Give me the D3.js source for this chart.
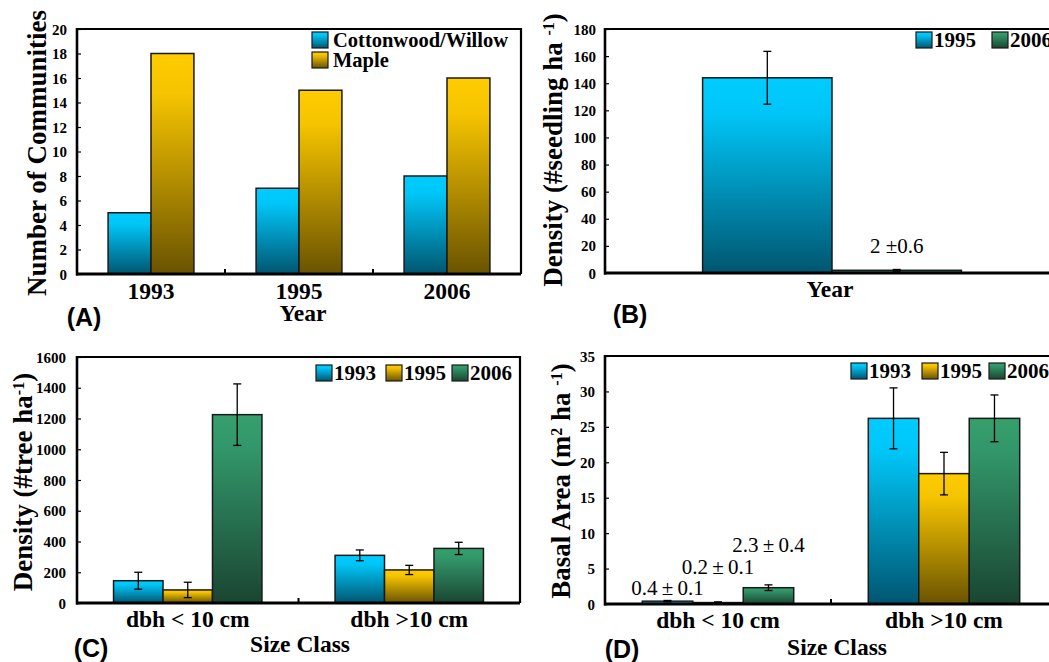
<!DOCTYPE html>
<html><head><meta charset="utf-8">
<script src="https://cdn.jsdelivr.net/npm/d3@7"></script>
<style>body{margin:0;background:#fff}svg{display:block}</style>
</head><body><svg id="c" width="1049" height="662"></svg>
<script>
// ---------- DATA ----------
// (A) number of communities
const yearsA = ["1993", "1995", "2006"];
const cottonwoodWillow = [5, 7, 8];
const maple = [18, 15, 16];
const ticksA = [0, 2, 4, 6, 8, 10, 12, 14, 16, 18, 20];

// (B) seedling density
const seedlingCategories = [""];
const seedling1995 = [144];
const seedling1995SE = [19.5];
const seedling2006 = [2];
const seedling2006SE = [0.6];
const ticksB = [0, 20, 40, 60, 80, 100, 120, 140, 160, 180];

// (C) tree density by size class
const sizeClasses = ["dbh < 10 cm", "dbh >10 cm"];
const density1993 = [145, 310];
const density1993SE = [55, 35];
const density1995 = [85, 215];
const density1995SE = [50, 30];
const density2006 = [1225, 355];
const density2006SE = [200, 40];
const ticksC = [0, 200, 400, 600, 800, 1000, 1200, 1400, 1600];

// (D) basal area by size class
const basal1993 = [0.4, 26.2];
const basal1993SE = [0.1, 4.3];
const basal1995 = [0.2, 18.4];
const basal1995SE = [0.1, 3.0];
const basal2006 = [2.3, 26.2];
const basal2006SE = [0.4, 3.3];
const ticksD = [0, 5, 10, 15, 20, 25, 30, 35];
const basalLabels = ["0.4\u2009\u00B1\u20090.1", "0.2\u2009\u00B1\u20090.1", "2.3\u2009\u00B1\u20090.4"];

// ---------- STYLE ----------
const SERIF = "'Liberation Serif','Times New Roman',serif";
const SANS = "'Liberation Sans',Arial,sans-serif";
const svg = d3.select("#c");
const defs = svg.append("defs");
const grads = {
  cyan: ["#00CCFF", "#00C6F8", "#005670"],
  gold: ["#FFCC00", "#F6C400", "#6A5300"],
  green: ["#36A06C", "#32966A", "#1A4531"]
};
Object.entries(grads).forEach(([k, c]) => {
  const g = defs.append("linearGradient").attr("id", "g-" + k)
    .attr("x1", 0).attr("y1", 0).attr("x2", 0).attr("y2", 1);
  g.append("stop").attr("offset", 0).attr("stop-color", c[0]);
  g.append("stop").attr("offset", 0.18).attr("stop-color", c[1]);
  g.append("stop").attr("offset", 1).attr("stop-color", c[2]);
});

function panel(cfg) {
  const g = svg.append("g");
  const x = d3.scaleBand().domain(cfg.categories).range([cfg.left, cfg.right]);
  const y = d3.scaleLinear().domain([0, cfg.ymax]).range([cfg.bottom, cfg.top]);
  const bw = x.bandwidth();
  const inner = d3.scaleBand().domain(cfg.series.map(s => s.name))
    .range([bw * (1 - cfg.groupFrac) / 2, bw * (1 + cfg.groupFrac) / 2]);

  // bars
  cfg.series.forEach(s => {
    g.selectAll(null).data(cfg.categories).enter().append("rect")
      .attr("x", (d) => x(d) + inner(s.name))
      .attr("width", inner.bandwidth())
      .attr("y", (d, i) => y(s.values[i]))
      .attr("height", (d, i) => cfg.bottom - y(s.values[i]))
      .attr("fill", "url(#g-" + s.color + ")")
      .attr("stroke", "#1a1a1a").attr("stroke-width", 1.5);
    if (s.errs) {
      cfg.categories.forEach((d, i) => {
        const cx = x(d) + inner(s.name) + inner.bandwidth() / 2;
        const y1 = y(s.values[i] + s.errs[i]), y2 = y(Math.max(0, s.values[i] - s.errs[i]));
        g.append("line").attr("x1", cx).attr("x2", cx).attr("y1", y1).attr("y2", y2)
          .attr("stroke", "#000").attr("stroke-width", 1.3);
        [y1, y2].forEach(yy => g.append("line").attr("x1", cx - 4).attr("x2", cx + 4)
          .attr("y1", yy).attr("y2", yy).attr("stroke", "#000").attr("stroke-width", 1.3));
      });
    }
  });

  // frame
  g.append("path").attr("d", `M${cfg.left},${cfg.top}H${cfg.right}V${cfg.bottom}`)
    .attr("fill", "none").attr("stroke", "#000").attr("stroke-width", 2.2);
  g.append("line").attr("x1", cfg.left).attr("x2", cfg.left).attr("y1", cfg.top - 1).attr("y2", cfg.bottom + 1.5)
    .attr("stroke", "#000").attr("stroke-width", 2.6);
  g.append("line").attr("x1", cfg.left - 1).attr("x2", cfg.right).attr("y1", cfg.bottom).attr("y2", cfg.bottom)
    .attr("stroke", "#000").attr("stroke-width", 3);

  // y axis (ticks inside)
  const ya = d3.axisLeft(y).tickValues(cfg.ticks).tickFormat(d3.format("d")).tickSize(0).tickPadding(0);
  const yg = g.append("g").attr("transform", `translate(${cfg.left},0)`).call(ya);
  yg.select(".domain").remove();
  yg.selectAll(".tick text").attr("x", -cfg.tickGap).attr("dy", "0.34em")
    .style("font-family", SERIF).style("font-weight", "bold").style("font-size", "15px").attr("fill", "#000");
  yg.selectAll(".tick").append("line").attr("x1", 0).attr("x2", 4).attr("stroke", "#000").attr("stroke-width", 1.2);

  // x ticks between categories
  cfg.categories.slice(1).forEach(d => {
    g.append("line").attr("x1", x(d)).attr("x2", x(d)).attr("y1", cfg.bottom).attr("y2", cfg.bottom - 5)
      .attr("stroke", "#000").attr("stroke-width", 2);
  });
  if (cfg.catLabels) {
    cfg.categories.forEach(d => g.append("text").attr("x", x(d) + bw / 2).attr("y", cfg.catY)
      .attr("text-anchor", "middle").style("font-family", SERIF).style("font-weight", "bold")
      .style("font-size", "23.5px").text(d));
  }
  // x title
  g.append("text").attr("x", cfg.xTitleX).attr("y", cfg.xTitleY).attr("text-anchor", "middle")
    .style("font-family", SERIF).style("font-weight", "bold").style("font-size", "23.5px").text(cfg.xTitle);
  // panel letter
  g.append("text").attr("x", cfg.letterX).attr("y", cfg.letterY).attr("text-anchor", "middle")
    .style("font-family", SANS).style("font-weight", "bold").style("font-size", "25px").text(cfg.letter);
  // y title
  const yt = g.append("text").attr("transform", `translate(${cfg.yTitleX},${cfg.yTitleY}) rotate(-90)`)
    .attr("text-anchor", "middle").style("font-family", SERIF).style("font-weight", "bold").style("font-size", "27px");
  cfg.yTitle.forEach(p => {
    const t = yt.append("tspan").text(p.t);
    if (p.sup) t.attr("baseline-shift", "super").style("font-size", "16px");
  });

  // legend
  cfg.series.forEach((s, i) => {
    const lx = cfg.legend.xs[i], ly = cfg.legend.ys[i];
    g.append("rect").attr("x", lx).attr("y", ly).attr("width", 16).attr("height", 16)
      .attr("fill", "url(#g-" + s.color + ")").attr("stroke", "#1a1a1a").attr("stroke-width", 1.2);
    g.append("text").attr("x", lx + 18 + (cfg.legend.gap || 0)).attr("y", ly + 15)
      .style("font-family", SERIF).style("font-weight", "bold").style("font-size", cfg.legend.size)
      .text(s.name);
  });
  return { x, y, inner, g };
}

// (A)
panel({
  left: 77, right: 521, top: 29, bottom: 274, ymax: 20, ticks: ticksA, tickGap: 10,
  categories: yearsA, groupFrac: 0.58, catLabels: true, catY: 299,
  series: [
    { name: "Cottonwood/Willow", values: cottonwoodWillow, color: "cyan" },
    { name: "Maple", values: maple, color: "gold" }
  ],
  xTitle: "Year", xTitleX: 303, xTitleY: 321, letter: "(A)", letterX: 84, letterY: 326,
  yTitle: [{ t: "Number of Communities" }], yTitleX: 46, yTitleY: 153,
  legend: { xs: [312, 312], ys: [32, 52], size: "20.5px", gap: 3 }
});

// (B)
const pB = panel({
  left: 605, right: 1059, top: 29, bottom: 273, ymax: 180, ticks: ticksB, tickGap: 9,
  categories: seedlingCategories, groupFrac: 0.57, catLabels: false,
  series: [
    { name: "1995", values: seedling1995, errs: seedling1995SE, color: "cyan" },
    { name: "2006", values: seedling2006, errs: seedling2006SE, color: "green" }
  ],
  xTitle: "Year", xTitleX: 830, xTitleY: 297, letter: "(B)", letterX: 630, letterY: 323,
  yTitle: [{ t: "Density (#seedling ha " }, { t: "-1", sup: true }, { t: ")" }], yTitleX: 562, yTitleY: 150,
  legend: { xs: [916, 992], ys: [32, 32], size: "21px" }
});
pB.g.append("text")
  .attr("x", pB.x("") + pB.inner("2006") + pB.inner.bandwidth() / 2)
  .attr("y", pB.y(seedling2006[0] + seedling2006SE[0]) - 16)
  .attr("text-anchor", "middle").style("font-family", SERIF).style("font-size", "21px")
  .text(seedling2006[0] + " \u00B1" + seedling2006SE[0]);

// (C)
panel({
  left: 77, right: 520, top: 357, bottom: 603, ymax: 1600, ticks: ticksC, tickGap: 11,
  categories: sizeClasses, groupFrac: 0.67, catLabels: true, catY: 627,
  series: [
    { name: "1993", values: density1993, errs: density1993SE, color: "cyan" },
    { name: "1995", values: density1995, errs: density1995SE, color: "gold" },
    { name: "2006", values: density2006, errs: density2006SE, color: "green" }
  ],
  xTitle: "Size Class", xTitleX: 300, xTitleY: 652, letter: "(C)", letterX: 91, letterY: 657,
  yTitle: [{ t: "Density (#tree ha" }, { t: "-1", sup: true }, { t: ")" }], yTitleX: 32, yTitleY: 482,
  legend: { xs: [316, 386, 452], ys: [365, 365, 365], size: "21px" }
});

// (D)
const pD = panel({
  left: 605, right: 1057, top: 356, bottom: 604, ymax: 35, ticks: ticksD, tickGap: 10,
  categories: sizeClasses, groupFrac: 0.67, catLabels: true, catY: 628,
  series: [
    { name: "1993", values: basal1993, errs: basal1993SE, color: "cyan" },
    { name: "1995", values: basal1995, errs: basal1995SE, color: "gold" },
    { name: "2006", values: basal2006, errs: basal2006SE, color: "green" }
  ],
  xTitle: "Size Class", xTitleX: 837, xTitleY: 655, letter: "(D)", letterX: 622, letterY: 658,
  yTitle: [{ t: "Basal Area (m" }, { t: "2", sup: true }, { t: " ha " }, { t: "-1", sup: true }, { t: ")" }],
  yTitleX: 570, yTitleY: 481,
  legend: { xs: [851, 922, 989], ys: [363, 363, 363], size: "21px" }
});
["1993", "1995", "2006"].forEach((s, i) => {
  pD.g.append("text")
    .attr("x", pD.x(sizeClasses[0]) + pD.inner(s) + pD.inner.bandwidth() / 2)
    .attr("y", pD.y(0) - 9 - i * 21.5)
    .attr("text-anchor", "middle").style("font-family", SERIF).style("font-size", "21px")
    .text(basalLabels[i]);
});
</script>
</body></html>
